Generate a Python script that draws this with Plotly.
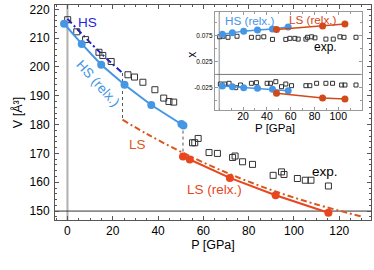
import plotly.graph_objects as go

# ---------------- main panel data ----------------
hs_relx_p = [-1.5, 6.3, 14.9, 25.2, 37.0, 50.3, 51.2]
hs_relx_v = [215.0, 208.0, 200.8, 193.8, 186.8, 180.2, 179.7]

ls_relx_p = [51.0, 54.0, 71.7, 91.9, 115.2]
ls_relx_v = [168.9, 167.9, 161.5, 155.5, 149.4]

hs_eos_p = [0.0, 13.9, 24.3]
hs_eos_v = [216.7, 205.4, 197.9]

ls_eos_p = [24.3, 35.0, 50.0, 70.0, 90.0, 110.0, 129.5]
ls_eos_v = [181.7, 176.8, 170.6, 163.4, 157.3, 152.3, 148.2]

exp_p = [0.1, 4.1, 8.0, 13.9, 15.6, 19.3, 26.7, 29.6, 33.3, 38.6, 42.5, 44.8, 46.9,
         55.2, 56.2, 57.7, 62.5, 66.2, 72.9, 74.0, 77.3, 81.7, 90.8, 94.5, 95.6,
         101.5, 105.0, 107.5, 115.2]
exp_v = [216.4, 212.2, 209.5, 205.1, 204.0, 201.9, 197.3, 196.5, 194.7, 192.1, 189.2, 188.0, 187.8,
         173.7, 173.7, 175.2, 170.3, 170.0, 168.6, 169.1, 167.1, 166.2, 162.4, 163.6, 162.7,
         161.3, 160.7, 160.7, 158.7]

# transition markers (dotted verticals)
trans1_p = [24.3, 24.3]
trans1_v = [197.9, 181.7]
trans2_p = [51.0, 51.0]
trans2_v = [180.0, 168.9]

# ---------------- inset data ----------------
in_hs_p = [2.6, 11.0, 20.5, 32.1, 44.7, 57.9]
in_hs_up = [0.078, 0.081, 0.084, 0.086, 0.088, 0.092]
in_hs_lo = [-0.0225, -0.0238, -0.0257, -0.027, -0.0289, -0.0315]
in_ls_p = [48.1, 86.8, 105.6]
in_ls_up = [0.087, 0.094, 0.098]
in_ls_lo = [-0.0367, -0.0457, -0.0476]

in_exp_up_p = [0.3, 3.1, 7.3, 14.9, 27.0, 32.6, 37.4, 44.7, 55.9, 59.3, 63.5, 66.3, 72.8, 74.2,
               77.6, 80.4, 89.6, 95.8, 101.4, 104.8, 114.9]
in_exp_up_x = [0.073, 0.074, 0.072, 0.074, 0.072, 0.072, 0.073, 0.068, 0.068, 0.070, 0.070, 0.0685,
               0.0685, 0.072, 0.073, 0.071, 0.0685, 0.0685, 0.073, 0.072, 0.072]
in_exp_lo_p = [0.9, 4.5, 8.2, 13.8, 17.8, 27.0, 31.2, 40.2, 43.0, 47.5, 52.3, 55.9, 60.7, 72.8,
               76.1, 81.8, 89.6, 95.2, 102.8, 105.6, 114.9]
in_exp_lo_x = [-0.0186, -0.0186, -0.0172, -0.0257, -0.0205, -0.0172, -0.016, -0.0172, -0.0172,
               -0.0141, -0.0238, -0.0186, -0.0218, -0.0218, -0.0218, -0.0172, -0.0172, -0.0172,
               -0.0205, -0.0205, -0.0205]

C_HS_RELX = "#4596e4"
C_LS_RELX = "#e8461e"
C_LS_EOS = "#d9571c"
C_HS_EOS = "#1f1fd0"
C_IN_LS = "#d2491a"

fig = go.Figure()

# reference lines
fig.add_trace(go.Scatter(x=[0, 0], y=[146.9, 221.5], mode="lines",
                         line=dict(color="#b0b0b0", width=2), showlegend=False, hoverinfo="skip"))
fig.add_trace(go.Scatter(x=[-5.5, 134], y=[150, 150], mode="lines",
                         line=dict(color="#333333", width=1), showlegend=False, hoverinfo="skip"))

# dotted transitions
for px, pv in [(trans1_p, trans1_v), (trans2_p, trans2_v)]:
    fig.add_trace(go.Scatter(x=px, y=pv, mode="lines",
                             line=dict(color="#555555", width=1, dash="dot"), showlegend=False))

# EOS dash-dot curves
dd = "6px,3px,2px,3px"
fig.add_trace(go.Scatter(x=hs_eos_p, y=hs_eos_v, mode="lines", line_shape="spline",
                         line=dict(color=C_HS_EOS, width=2, dash=dd), showlegend=False))
fig.add_trace(go.Scatter(x=ls_eos_p, y=ls_eos_v, mode="lines", line_shape="spline",
                         line=dict(color=C_LS_EOS, width=2, dash=dd), showlegend=False))

# experiment
fig.add_trace(go.Scatter(x=exp_p, y=exp_v, mode="markers",
                         marker=dict(symbol="square-open", size=6, color="#333333", line=dict(width=1)),
                         showlegend=False))

# relaxed
fig.add_trace(go.Scatter(x=hs_relx_p, y=hs_relx_v, mode="lines+markers",
                         line=dict(color=C_HS_RELX, width=2),
                         marker=dict(size=8, color=C_HS_RELX), showlegend=False))
fig.add_trace(go.Scatter(x=ls_relx_p, y=ls_relx_v, mode="lines+markers",
                         line=dict(color=C_LS_RELX, width=2),
                         marker=dict(size=8, color=C_LS_RELX), showlegend=False))

# ---------------- inset traces ----------------
ins = dict(xaxis="x2", yaxis="y2", showlegend=False)
fig.add_trace(go.Scatter(x=[0, 0], y=[-0.069, 0.1205], mode="lines",
                         line=dict(color="#b0b0b0", width=1.5), hoverinfo="skip", **ins))
fig.add_trace(go.Scatter(x=[-3.7, 119.7], y=[0, 0], mode="lines",
                         line=dict(color="#777777", width=1), hoverinfo="skip", **ins))
for ex, ey in [(in_exp_up_p, in_exp_up_x), (in_exp_lo_p, in_exp_lo_x)]:
    fig.add_trace(go.Scatter(x=ex, y=ey, mode="markers",
                             marker=dict(symbol="square-open", size=4, color="#333333", line=dict(width=1)),
                             **ins))
for yy in [in_hs_up, in_hs_lo]:
    fig.add_trace(go.Scatter(x=in_hs_p, y=yy, mode="lines+markers",
                             line=dict(color=C_HS_RELX, width=1.5),
                             marker=dict(size=7, color=C_HS_RELX), **ins))
for yy in [in_ls_up, in_ls_lo]:
    fig.add_trace(go.Scatter(x=in_ls_p, y=yy, mode="lines+markers",
                             line=dict(color=C_IN_LS, width=1.5),
                             marker=dict(size=7, color=C_IN_LS), **ins))

FONT = "Liberation Sans, Arial, sans-serif"
axis_common = dict(showgrid=False, zeroline=False, showline=True, linecolor="#555555",
                   linewidth=1, mirror="allticks", ticks="inside", tickcolor="#555555",
                   automargin=False)
inset_common = dict(showgrid=False, zeroline=False, showline=True, linecolor="#999999",
                    mirror="allticks", ticks="inside", tickcolor="#999999", automargin=False)

fig.update_layout(
    width=374, height=270,
    margin=dict(l=55, r=3, t=5, b=50, autoexpand=False),
    paper_bgcolor="white", plot_bgcolor="white",
    font=dict(family=FONT, color="black", size=12),
    xaxis=dict(range=[-5.5, 134], tickvals=[0, 20, 40, 60, 80, 100, 120], ticklen=4,
               minor=dict(dtick=5, ticks="inside", ticklen=2, tickcolor="#555555"),
               tickfont=dict(size=12),
               title=dict(text="P [GPa]", font=dict(size=12.5), standoff=2), **axis_common),
    yaxis=dict(range=[146.9, 221.5], tickvals=[150, 160, 170, 180, 190, 200, 210, 220], ticklen=4,
               minor=dict(dtick=2, ticks="inside", ticklen=2, tickcolor="#555555"),
               tickfont=dict(size=12), ticklabelstandoff=2,
               title=dict(text="V [Å³]", font=dict(size=12.5), standoff=4), **axis_common),
    xaxis2=dict(domain=[0.506, 0.9706], anchor="y2", range=[-3.7, 119.7],
                tickvals=[20, 40, 60, 80, 100], ticklen=3, tickfont=dict(size=10.5),
                ticklabelstandoff=-4,
                minor=dict(dtick=10, ticks="inside", ticklen=2, tickcolor="#999999"),
                **inset_common),
    yaxis2=dict(domain=[0.5116, 0.966], anchor="x2", range=[-0.069, 0.1205],
                tickvals=[0.075, 0.025, -0.025], ticktext=["0.075", "0.025", "-0.025"],
                ticklen=3, tickfont=dict(size=6.5),
                minor=dict(dtick=0.025, ticks="inside", ticklen=2, tickcolor="#999999"),
                **inset_common),
)

# ---------------- labels ----------------
ann = [
    dict(x=9.0, y=215.3, text="HS", font=dict(color="#1f1fe0", size=13.5)),
    dict(x=13.4, y=194.1, text="HS (relx.)", textangle=48, font=dict(color=C_HS_RELX, size=13.5)),
    dict(x=31.1, y=173.2, text="LS", font=dict(color=C_LS_EOS, size=13.5)),
    dict(x=65.0, y=157.5, text="LS (relx.)", font=dict(color=C_LS_RELX, size=13.5)),
    dict(x=113.7, y=163.6, text="exp.", font=dict(color="black", size=13.5)),
]
for a in ann:
    fig.add_annotation(xref="x", yref="y", showarrow=False, **a)

ann2 = [
    dict(x=25.6, y=0.1047, text="HS (relx.)", font=dict(color=C_HS_RELX, size=11.7)),
    dict(x=78.9, y=0.1066, text="LS (relx.)", font=dict(color=C_IN_LS, size=11.7)),
    dict(x=89.6, y=0.0535, text="exp.", font=dict(color="black", size=12)),
]
for a in ann2:
    fig.add_annotation(xref="x2", yref="y2", showarrow=False, **a)

# inset axis titles
fig.add_annotation(xref="paper", yref="paper", x=(296.7 - 55) / 316, y=(220 - 127.5) / 215,
                   text="P [GPa]", showarrow=False, font=dict(size=11.5))
fig.add_annotation(xref="paper", yref="paper", x=(191.7 - 55) / 316, y=(220 - 50) / 215,
                   text="x", textangle=-90, showarrow=False, font=dict(size=12))

fig.write_html("out.html", config={"displayModeBar": False},
               post_script="document.body.style.margin='0px';")
